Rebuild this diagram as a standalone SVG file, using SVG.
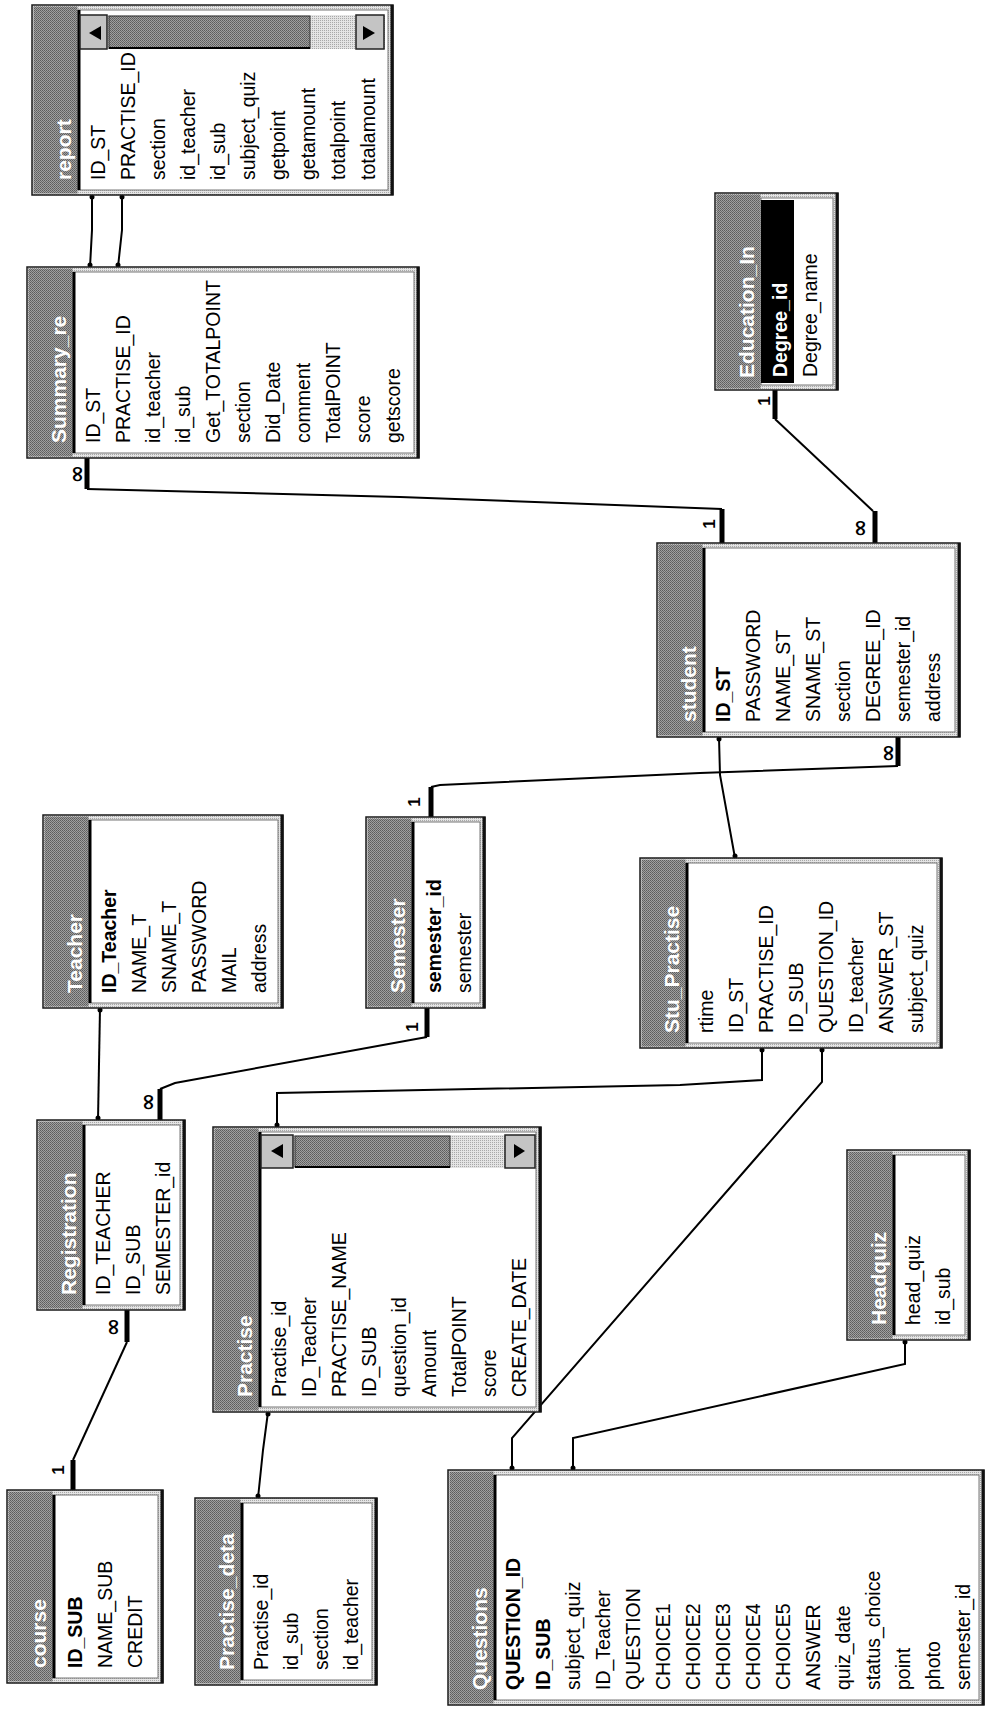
<svg xmlns="http://www.w3.org/2000/svg" width="986" height="1710" viewBox="0 0 986 1710">
<defs>
<pattern id="dith" width="2" height="2" patternUnits="userSpaceOnUse">
  <rect width="2" height="2" fill="#a0a0a0"/>
  <rect width="1" height="1" fill="#5c5c5c"/>
  <rect x="1" y="1" width="1" height="1" fill="#6a6a6a"/>
</pattern>
<pattern id="ldith" width="2" height="2" patternUnits="userSpaceOnUse">
  <rect width="2" height="2" fill="#e4e4e4"/>
  <rect width="1" height="1" fill="#a8a8a8"/>
</pattern>
</defs>
<style>
.fr{fill:url(#ldith);stroke:#1a1a1a;stroke-width:1.5}
.tb{fill:url(#dith)}
.fa{fill:#fff;stroke:#777;stroke-width:1}
.sp{stroke:#000;stroke-width:3}
.sh{stroke:#111;stroke-width:3}
.f{font-family:"Liberation Sans",Arial,sans-serif;font-size:19.5px;fill:#000}
.k{font-weight:bold}
.t{font-family:"Liberation Sans",Arial,sans-serif;font-size:21px;font-weight:bold;fill:#fff}
.ln{fill:none;stroke:#000;stroke-width:2}
.bar{stroke:#000;stroke-width:5}
.lb{font-family:"Liberation Sans",Arial,sans-serif;font-size:17px;font-weight:bold;fill:#000}
.inf{font-family:"DejaVu Sans",sans-serif;font-size:22px;font-weight:bold;fill:#000}
.dot{fill:#000}
.btn{fill:#c4c4c4;stroke:#222;stroke-width:1.5}
.thumb{fill:url(#dith);stroke:#333;stroke-width:1}
.trk{fill:url(#ldith)}
</style>
<rect width="986" height="1710" fill="#fff"/>

<g id="connectors">
  <polyline class="ln" points="92,195 92,230 90,267"/>
  <circle class="dot" cx="92" cy="197" r="2.5"/><circle class="dot" cx="90" cy="265" r="2.5"/>
  <polyline class="ln" points="122,195 122,230 118,267"/>
  <circle class="dot" cx="122" cy="197" r="2.5"/><circle class="dot" cx="118" cy="265" r="2.5"/>

  <line class="bar" x1="87" y1="458" x2="87" y2="489"/>
  <polyline class="ln" points="87,489 400,497 722,509"/>
  <line class="bar" x1="722" y1="509" x2="722" y2="543"/>
  <text class="inf" text-anchor="middle" transform="translate(84,474) rotate(-90)">∞</text>
  <text class="lb" text-anchor="middle" transform="translate(715,524) rotate(-90)">1</text>

  <line class="bar" x1="775" y1="390" x2="775" y2="419"/>
  <polyline class="ln" points="775,419 873,511"/>
  <line class="bar" x1="875" y1="511" x2="875" y2="543"/>
  <text class="lb" text-anchor="middle" transform="translate(770,401) rotate(-90)">1</text>
  <text class="inf" text-anchor="middle" transform="translate(867,528) rotate(-90)">∞</text>

  <polyline class="ln" points="719,737 720,775 735,858"/>
  <circle class="dot" cx="719" cy="739" r="2.5"/><circle class="dot" cx="735" cy="856" r="2.5"/>

  <line class="bar" x1="898" y1="737" x2="898" y2="766"/>
  <polyline class="ln" points="898,766 700,773 440,785 431,787"/>
  <line class="bar" x1="431" y1="787" x2="431" y2="817"/>
  <text class="inf" text-anchor="middle" transform="translate(895,753) rotate(-90)">∞</text>
  <text class="lb" text-anchor="middle" transform="translate(420,802) rotate(-90)">1</text>

  <line class="bar" x1="427" y1="1008" x2="427" y2="1037"/>
  <polyline class="ln" points="427,1037 175,1083 160,1089"/>
  <line class="bar" x1="160" y1="1089" x2="160" y2="1120"/>
  <text class="lb" text-anchor="middle" transform="translate(418,1027) rotate(-90)">1</text>
  <text class="inf" text-anchor="middle" transform="translate(155,1102) rotate(-90)">∞</text>

  <polyline class="ln" points="100,1008 98,1120"/>
  <circle class="dot" cx="100" cy="1010" r="2.5"/><circle class="dot" cx="98" cy="1118" r="2.5"/>

  <line class="bar" x1="127" y1="1310" x2="127" y2="1342"/>
  <polyline class="ln" points="127,1342 73,1460"/>
  <line class="bar" x1="73" y1="1460" x2="73" y2="1490"/>
  <text class="inf" text-anchor="middle" transform="translate(120,1327) rotate(-90)">∞</text>
  <text class="lb" text-anchor="middle" transform="translate(64,1470) rotate(-90)">1</text>

  <polyline class="ln" points="762,1048 762,1080 680,1085 277,1093 277,1127"/>
  <circle class="dot" cx="762" cy="1050" r="2.5"/><circle class="dot" cx="277" cy="1125" r="2.5"/>

  <polyline class="ln" points="822,1048 822,1082 512,1438 512,1470"/>
  <circle class="dot" cx="822" cy="1050" r="2.5"/><circle class="dot" cx="512" cy="1468" r="2.5"/>

  <polyline class="ln" points="905,1340 905,1364 573,1438 573,1470"/>
  <circle class="dot" cx="905" cy="1342" r="2.5"/><circle class="dot" cx="573" cy="1468" r="2.5"/>

  <polyline class="ln" points="268,1412 263,1450 258,1498"/>
  <circle class="dot" cx="268" cy="1414" r="2.5"/><circle class="dot" cx="258" cy="1496" r="2.5"/>
</g>

<g id="report">
  <rect class="fr" x="32" y="5" width="361" height="190"/>
  <rect class="tb" x="33.5" y="6.5" width="44" height="187"/>
  <rect class="fa" x="78" y="10" width="310" height="180"/>
  <line class="sp" x1="79" y1="10" x2="79" y2="190"/>
  <line class="sh" x1="392" y1="5" x2="392" y2="195"/>
  <rect class="trk" x="80" y="15" width="305" height="34"/>
  <rect class="btn" x="80" y="15" width="27" height="34"/>
  <polygon points="89,33 101,26 101,40"/>
  <rect class="thumb" x="109" y="16" width="201" height="32"/>
  <line x1="109" y1="48" x2="310" y2="48" stroke="#000" stroke-width="2"/>
  <rect class="btn" x="356" y="15" width="28" height="34"/>
  <polygon points="375,33 363,26 363,40"/>
  <text class="t" transform="translate(71,180) rotate(-90)">report</text>
  <text class="f" transform="translate(105,180) rotate(-90)">ID_ST</text>
  <text class="f" transform="translate(135,180) rotate(-90)">PRACTISE_ID</text>
  <text class="f" transform="translate(165,180) rotate(-90)">section</text>
  <text class="f" transform="translate(195,180) rotate(-90)">id_teacher</text>
  <text class="f" transform="translate(225,180) rotate(-90)">id_sub</text>
  <text class="f" transform="translate(255,180) rotate(-90)">subject_quiz</text>
  <text class="f" transform="translate(285,180) rotate(-90)">getpoint</text>
  <text class="f" transform="translate(315,180) rotate(-90)">getamount</text>
  <text class="f" transform="translate(345,180) rotate(-90)">totalpoint</text>
  <text class="f" transform="translate(375,180) rotate(-90)">totalamount</text>
</g>

<g id="summary">
  <rect class="fr" x="27" y="267" width="392" height="191"/>
  <rect class="tb" x="28.5" y="268.5" width="44" height="188"/>
  <rect class="fa" x="73" y="272" width="341" height="181"/>
  <line class="sp" x1="74" y1="272" x2="74" y2="453"/>
  <line class="sh" x1="418" y1="267" x2="418" y2="458"/>
  <text class="t" transform="translate(66,443) rotate(-90)">Summary_re</text>
  <text class="f" transform="translate(100,443) rotate(-90)">ID_ST</text>
  <text class="f" transform="translate(130,443) rotate(-90)">PRACTISE_ID</text>
  <text class="f" transform="translate(160,443) rotate(-90)">id_teacher</text>
  <text class="f" transform="translate(190,443) rotate(-90)">id_sub</text>
  <text class="f" transform="translate(220,443) rotate(-90)">Get_TOTALPOINT</text>
  <text class="f" transform="translate(250,443) rotate(-90)">section</text>
  <text class="f" transform="translate(280,443) rotate(-90)">Did_Date</text>
  <text class="f" transform="translate(310,443) rotate(-90)">comment</text>
  <text class="f" transform="translate(340,443) rotate(-90)">TotalPOINT</text>
  <text class="f" transform="translate(370,443) rotate(-90)">score</text>
  <text class="f" transform="translate(400,443) rotate(-90)">getscore</text>
</g>

<g id="education">
  <rect class="fr" x="715" y="193" width="123" height="197"/>
  <rect class="tb" x="716.5" y="194.5" width="44" height="194"/>
  <rect class="fa" x="761" y="198" width="72" height="187"/>
  <rect x="761" y="200" width="33" height="183" fill="#000"/>
  <line class="sh" x1="837" y1="193" x2="837" y2="390"/>
  <text class="t" transform="translate(754,378) rotate(-90)">Education_In</text>
  <text class="f k" style="fill:#fff" transform="translate(787,377) rotate(-90)">Degree_id</text>
  <text class="f" transform="translate(817,377) rotate(-90)">Degree_name</text>
</g>

<g id="student">
  <rect class="fr" x="657" y="543" width="303" height="194"/>
  <rect class="tb" x="658.5" y="544.5" width="44" height="191"/>
  <rect class="fa" x="703" y="548" width="252" height="184"/>
  <line class="sp" x1="704" y1="548" x2="704" y2="732"/>
  <line class="sh" x1="959" y1="543" x2="959" y2="737"/>
  <text class="t" transform="translate(696,722) rotate(-90)">student</text>
  <text class="f k" transform="translate(730,722) rotate(-90)">ID_ST</text>
  <text class="f" transform="translate(760,722) rotate(-90)">PASSWORD</text>
  <text class="f" transform="translate(790,722) rotate(-90)">NAME_ST</text>
  <text class="f" transform="translate(820,722) rotate(-90)">SNAME_ST</text>
  <text class="f" transform="translate(850,722) rotate(-90)">section</text>
  <text class="f" transform="translate(880,722) rotate(-90)">DEGREE_ID</text>
  <text class="f" transform="translate(910,722) rotate(-90)">semester_id</text>
  <text class="f" transform="translate(940,722) rotate(-90)">address</text>
</g>

<g id="teacher">
  <rect class="fr" x="43" y="815" width="240" height="193"/>
  <rect class="tb" x="44.5" y="816.5" width="44" height="190"/>
  <rect class="fa" x="89" y="820" width="189" height="183"/>
  <line class="sp" x1="90" y1="820" x2="90" y2="1003"/>
  <line class="sh" x1="282" y1="815" x2="282" y2="1008"/>
  <text class="t" transform="translate(82,993) rotate(-90)">Teacher</text>
  <text class="f k" transform="translate(116,993) rotate(-90)">ID_Teacher</text>
  <text class="f" transform="translate(146,993) rotate(-90)">NAME_T</text>
  <text class="f" transform="translate(176,993) rotate(-90)">SNAME_T</text>
  <text class="f" transform="translate(206,993) rotate(-90)">PASSWORD</text>
  <text class="f" transform="translate(236,993) rotate(-90)">MAIL</text>
  <text class="f" transform="translate(266,993) rotate(-90)">address</text>
</g>

<g id="semester">
  <rect class="fr" x="366" y="817" width="119" height="191"/>
  <rect class="tb" x="367.5" y="818.5" width="44" height="188"/>
  <rect class="fa" x="412" y="822" width="68" height="181"/>
  <line class="sp" x1="413" y1="822" x2="413" y2="1003"/>
  <line class="sh" x1="484" y1="817" x2="484" y2="1008"/>
  <text class="t" transform="translate(405,993) rotate(-90)">Semester</text>
  <text class="f k" transform="translate(441,993) rotate(-90)">semester_id</text>
  <text class="f" transform="translate(471,993) rotate(-90)">semester</text>
</g>

<g id="stu_practise">
  <rect class="fr" x="640" y="858" width="302" height="190"/>
  <rect class="tb" x="641.5" y="859.5" width="44" height="187"/>
  <rect class="fa" x="686" y="863" width="251" height="180"/>
  <line class="sp" x1="687" y1="863" x2="687" y2="1043"/>
  <line class="sh" x1="941" y1="858" x2="941" y2="1048"/>
  <text class="t" transform="translate(679,1033) rotate(-90)">Stu_Practise</text>
  <text class="f" transform="translate(713,1033) rotate(-90)">rtime</text>
  <text class="f" transform="translate(743,1033) rotate(-90)">ID_ST</text>
  <text class="f" transform="translate(773,1033) rotate(-90)">PRACTISE_ID</text>
  <text class="f" transform="translate(803,1033) rotate(-90)">ID_SUB</text>
  <text class="f" transform="translate(833,1033) rotate(-90)">QUESTION_ID</text>
  <text class="f" transform="translate(863,1033) rotate(-90)">ID_teacher</text>
  <text class="f" transform="translate(893,1033) rotate(-90)">ANSWER_ST</text>
  <text class="f" transform="translate(923,1033) rotate(-90)">subject_quiz</text>
</g>

<g id="registration">
  <rect class="fr" x="37" y="1120" width="148" height="190"/>
  <rect class="tb" x="38.5" y="1121.5" width="44" height="187"/>
  <rect class="fa" x="83" y="1125" width="97" height="180"/>
  <line class="sp" x1="84" y1="1125" x2="84" y2="1305"/>
  <line class="sh" x1="184" y1="1120" x2="184" y2="1310"/>
  <text class="t" transform="translate(76,1295) rotate(-90)">Registration</text>
  <text class="f" transform="translate(110,1295) rotate(-90)">ID_TEACHER</text>
  <text class="f" transform="translate(140,1295) rotate(-90)">ID_SUB</text>
  <text class="f" transform="translate(170,1295) rotate(-90)">SEMESTER_id</text>
</g>

<g id="practise">
  <rect class="fr" x="213" y="1127" width="328" height="285"/>
  <rect class="tb" x="214.5" y="1128.5" width="44" height="282"/>
  <rect class="fa" x="259" y="1132" width="277" height="275"/>
  <line class="sp" x1="260" y1="1132" x2="260" y2="1407"/>
  <line class="sh" x1="540" y1="1127" x2="540" y2="1412"/>
  <rect class="trk" x="261" y="1135" width="274" height="33"/>
  <rect class="btn" x="261" y="1135" width="32" height="33"/>
  <polygon points="271,1151 283,1144 283,1158"/>
  <rect class="thumb" x="295" y="1136" width="155" height="31"/>
  <line x1="295" y1="1167" x2="450" y2="1167" stroke="#000" stroke-width="2"/>
  <rect class="btn" x="505" y="1135" width="30" height="33"/>
  <polygon points="525,1151 514,1144 514,1158"/>
  <text class="t" transform="translate(252,1397) rotate(-90)">Practise</text>
  <text class="f" transform="translate(286,1397) rotate(-90)">Practise_id</text>
  <text class="f" transform="translate(316,1397) rotate(-90)">ID_Teacher</text>
  <text class="f" transform="translate(346,1397) rotate(-90)">PRACTISE_NAME</text>
  <text class="f" transform="translate(376,1397) rotate(-90)">ID_SUB</text>
  <text class="f" transform="translate(406,1397) rotate(-90)">question_id</text>
  <text class="f" transform="translate(436,1397) rotate(-90)">Amount</text>
  <text class="f" transform="translate(466,1397) rotate(-90)">TotalPOINT</text>
  <text class="f" transform="translate(496,1397) rotate(-90)">score</text>
  <text class="f" transform="translate(526,1397) rotate(-90)">CREATE_DATE</text>
</g>

<g id="headquiz">
  <rect class="fr" x="847" y="1150" width="123" height="190"/>
  <rect class="tb" x="848.5" y="1151.5" width="44" height="187"/>
  <rect class="fa" x="893" y="1155" width="72" height="180"/>
  <line class="sp" x1="894" y1="1155" x2="894" y2="1335"/>
  <line class="sh" x1="969" y1="1150" x2="969" y2="1340"/>
  <text class="t" transform="translate(886,1325) rotate(-90)">Headquiz</text>
  <text class="f" transform="translate(920,1325) rotate(-90)">head_quiz</text>
  <text class="f" transform="translate(950,1325) rotate(-90)">id_sub</text>
</g>

<g id="course">
  <rect class="fr" x="7" y="1490" width="156" height="193"/>
  <rect class="tb" x="8.5" y="1491.5" width="44" height="190"/>
  <rect class="fa" x="53" y="1495" width="105" height="183"/>
  <line class="sp" x1="54" y1="1495" x2="54" y2="1678"/>
  <line class="sh" x1="162" y1="1490" x2="162" y2="1683"/>
  <text class="t" transform="translate(46,1668) rotate(-90)">course</text>
  <text class="f k" transform="translate(82,1668) rotate(-90)">ID_SUB</text>
  <text class="f" transform="translate(112,1668) rotate(-90)">NAME_SUB</text>
  <text class="f" transform="translate(142,1668) rotate(-90)">CREDIT</text>
</g>

<g id="practise_detail">
  <rect class="fr" x="195" y="1498" width="182" height="187"/>
  <rect class="tb" x="196.5" y="1499.5" width="44" height="184"/>
  <rect class="fa" x="241" y="1503" width="131" height="177"/>
  <line class="sp" x1="242" y1="1503" x2="242" y2="1680"/>
  <line class="sh" x1="376" y1="1498" x2="376" y2="1685"/>
  <text class="t" transform="translate(234,1670) rotate(-90)">Practise_deta</text>
  <text class="f" transform="translate(268,1670) rotate(-90)">Practise_id</text>
  <text class="f" transform="translate(298,1670) rotate(-90)">id_sub</text>
  <text class="f" transform="translate(328,1670) rotate(-90)">section</text>
  <text class="f" transform="translate(358,1670) rotate(-90)">id_teacher</text>
</g>

<g id="questions">
  <rect class="fr" x="448" y="1470" width="536" height="235"/>
  <rect class="tb" x="449.5" y="1471.5" width="44" height="232"/>
  <rect class="fa" x="494" y="1475" width="485" height="225"/>
  <line class="sp" x1="495" y1="1475" x2="495" y2="1700"/>
  <line class="sh" x1="983" y1="1470" x2="983" y2="1705"/>
  <text class="t" transform="translate(487,1690) rotate(-90)">Questions</text>
  <text class="f k" transform="translate(520,1690) rotate(-90)">QUESTION_ID</text>
  <text class="f k" transform="translate(550,1690) rotate(-90)">ID_SUB</text>
  <text class="f" transform="translate(580,1690) rotate(-90)">subject_quiz</text>
  <text class="f" transform="translate(610,1690) rotate(-90)">ID_Teacher</text>
  <text class="f" transform="translate(640,1690) rotate(-90)">QUESTION</text>
  <text class="f" transform="translate(670,1690) rotate(-90)">CHOICE1</text>
  <text class="f" transform="translate(700,1690) rotate(-90)">CHOICE2</text>
  <text class="f" transform="translate(730,1690) rotate(-90)">CHOICE3</text>
  <text class="f" transform="translate(760,1690) rotate(-90)">CHOICE4</text>
  <text class="f" transform="translate(790,1690) rotate(-90)">CHOICE5</text>
  <text class="f" transform="translate(820,1690) rotate(-90)">ANSWER</text>
  <text class="f" transform="translate(850,1690) rotate(-90)">quiz_date</text>
  <text class="f" transform="translate(880,1690) rotate(-90)">status_choice</text>
  <text class="f" transform="translate(910,1690) rotate(-90)">point</text>
  <text class="f" transform="translate(940,1690) rotate(-90)">photo</text>
  <text class="f" transform="translate(970,1690) rotate(-90)">semester_id</text>
</g>
</svg>
